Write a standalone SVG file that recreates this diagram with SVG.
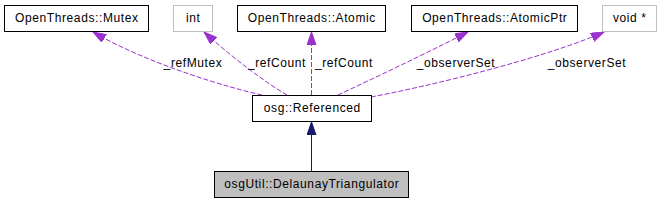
<svg xmlns="http://www.w3.org/2000/svg" width="662" height="203" viewBox="0 0 662 203">
<style>
text{font-family:"Liberation Sans",Arial,sans-serif;font-size:12px;letter-spacing:0.6px;fill:#000}
.box{fill:#fff;stroke:#000;stroke-width:1}
.gbox{fill:#fff;stroke:#bfbfbf;stroke-width:1}
.dep{fill:none;stroke:#9a32cd;stroke-width:1;stroke-dasharray:5,2}
.inh{fill:none;stroke:#191970;stroke-width:1}
</style>
<defs>
<marker id="pa" markerUnits="userSpaceOnUse" markerWidth="15" markerHeight="11" refX="13" refY="4.5" orient="auto"><path d="M0,0 L13,4.5 L0,9 Z" fill="#9a32cd" stroke="#9a32cd"/></marker>
<marker id="ba" markerUnits="userSpaceOnUse" markerWidth="15" markerHeight="11" refX="13" refY="4.5" orient="auto"><path d="M0,0 L13,4.5 L0,9 Z" fill="#191970" stroke="#191970"/></marker>
</defs>
<rect width="662" height="203" fill="#fff"/>
<g id="connectors">
<path class="inh" d="M311.5,171 L311.5,122" marker-end="url(#ba)"/>
<path class="dep" d="M262,95 C230,88 150,65 93,32" marker-end="url(#pa)"/>
<path class="dep" d="M287,95 C268,84 235,60 204,32" marker-end="url(#pa)"/>
<path class="dep" d="M311.5,95 L311.5,32" marker-end="url(#pa)"/>
<path class="dep" d="M338,95 C370,80 425,54 468,32" marker-end="url(#pa)"/>
<path class="dep" d="M371,97 C430,86 545,58 604,32" marker-end="url(#pa)"/>
<text x="193" y="66.5" text-anchor="middle">_refMutex</text>
<text x="277" y="66.5" text-anchor="middle">_refCount</text>
<text x="344" y="66.5" text-anchor="middle">_refCount</text>
<text x="456" y="66.5" text-anchor="middle">_observerSet</text>
<text x="587" y="66.5" text-anchor="middle">_observerSet</text>
</g>
<g id="mutex"><rect class="box" x="4.5" y="5.5" width="144" height="26"/><text x="76.8" y="22" text-anchor="middle">OpenThreads::Mutex</text></g>
<g id="int"><rect class="gbox" x="173.5" y="5.5" width="39" height="26"/><text x="193.3" y="22" text-anchor="middle">int</text></g>
<g id="atomic"><rect class="box" x="237.5" y="5.5" width="148" height="26"/><text x="311.8" y="22" text-anchor="middle">OpenThreads::Atomic</text></g>
<g id="atomicptr"><rect class="box" x="411.5" y="5.5" width="166" height="26"/><text x="494.8" y="22" text-anchor="middle">OpenThreads::AtomicPtr</text></g>
<g id="voidptr"><rect class="gbox" x="602.5" y="5.5" width="54" height="26"/><text x="629.8" y="22" text-anchor="middle">void *</text></g>
<g id="referenced"><rect class="box" x="252.5" y="95.5" width="119" height="26"/><text x="312.3" y="112" text-anchor="middle">osg::Referenced</text></g>
<g id="delaunay"><rect x="214.5" y="171.5" width="194" height="26" fill="#bfbfbf" stroke="#000"/><text x="311.8" y="188" text-anchor="middle">osgUtil::DelaunayTriangulator</text></g>
</svg>
